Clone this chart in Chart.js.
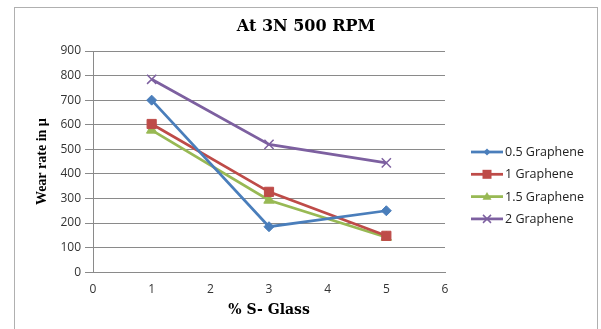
<!DOCTYPE html>
<html>
<head>
<meta charset="utf-8">
<script src="https://cdn.jsdelivr.net/npm/chart.js@4"></script>
<style>
  html, body { margin: 0; padding: 0; background: #fff; }
  #wrap { width: 601px; height: 329px; position: relative; }
</style>
</head>
<body>
<div id="wrap"><canvas id="wearChart"></canvas></div>
<script>
// data
var chartTitle = "At 3N 500 RPM";
var xValues = [1, 3, 5];
var graphene05 = [700, 185, 250];
var graphene1 = [603, 327, 148];
var graphene15 = [578, 293, 142];
var graphene2 = [785, 520, 445];
var seriesNames = ["0.5 Graphene", "1 Graphene", "1.5 Graphene", "2 Graphene"];
var seriesColors = ["#4a7ebb", "#be4b48", "#98b954", "#7d60a0"];

var toPoints = function(vals) {
  return vals.map(function(v, i) { return { x: xValues[i], y: v }; });
};

var makeSet = function(i, vals, style, radius) {
  return {
    label: seriesNames[i],
    data: toPoints(vals),
    borderColor: seriesColors[i],
    backgroundColor: seriesColors[i],
    borderWidth: 2.75,
    pointStyle: style,
    pointRadius: radius,
    pointHoverRadius: radius,
    pointBorderWidth: style === "crossRot" ? 1.5 : 1,
    pointBorderColor: seriesColors[i],
    pointBackgroundColor: seriesColors[i],
    tension: 0
  };
};

// little marker drawer for the legend
function drawMarker(ctx, style, x, y, r, color) {
  ctx.save();
  ctx.fillStyle = color;
  ctx.strokeStyle = color;
  ctx.lineWidth = 1.5;
  ctx.beginPath();
  if (style === "rectRot") {
    ctx.moveTo(x, y - r); ctx.lineTo(x + r, y); ctx.lineTo(x, y + r); ctx.lineTo(x - r, y);
    ctx.closePath(); ctx.fill();
  } else if (style === "rect") {
    ctx.rect(x - r, y - r, 2 * r, 2 * r); ctx.fill();
  } else if (style === "triangle") {
    ctx.moveTo(x, y - r); ctx.lineTo(x + r, y + r * 0.7); ctx.lineTo(x - r, y + r * 0.7);
    ctx.closePath(); ctx.fill();
  } else {
    ctx.moveTo(x - r, y - r); ctx.lineTo(x + r, y + r);
    ctx.moveTo(x + r, y - r); ctx.lineTo(x - r, y + r);
    ctx.stroke();
  }
  ctx.restore();
}

var framePlugin = {
  id: "frame",
  beforeDraw: function(chart) {
    var ctx = chart.ctx;
    ctx.save();
    ctx.fillStyle = "#fff";
    ctx.fillRect(0, 0, chart.width, chart.height);
    ctx.strokeStyle = "#b0b0b0";
    ctx.lineWidth = 1;
    ctx.strokeRect(14.5, 7.5, 583, 340);
    ctx.restore();
  },
  afterDraw: function(chart) {
    var ctx = chart.ctx;
    ctx.save();
    ctx.fillStyle = "#000";
    ctx.font = "bold 16px 'DejaVu Serif'";
    ctx.textAlign = "center";
    ctx.textBaseline = "middle";
    ctx.fillText(chartTitle, 306, 27);

    // legend
    var legendStyles = ["rectRot", "rect", "triangle", "crossRot"];
    var legendSizes = [3.5, 4.5, 4.5, 4];
    ctx.font = "12.5px 'Open Sans'";
    ctx.textAlign = "left";
    chart.data.datasets.forEach(function(ds, i) {
      var y = 152 + i * 22.3;
      ctx.strokeStyle = ds.borderColor;
      ctx.lineWidth = 2.75;
      ctx.beginPath();
      ctx.moveTo(471, y);
      ctx.lineTo(503, y);
      ctx.stroke();
      drawMarker(ctx, legendStyles[i], 487, y, legendSizes[i], ds.borderColor);
      ctx.fillStyle = "#222";
      ctx.fillText(ds.label, 505, y + 0.5);
    });
    ctx.restore();
  }
};

var config = {
  type: "line",
  data: {
    datasets: [
      makeSet(0, graphene05, "rectRot", 5),
      makeSet(1, graphene1, "rect", 6.5),
      makeSet(2, graphene15, "triangle", 6),
      makeSet(3, graphene2, "crossRot", 6.5)
    ]
  },
  options: {
    responsive: true,
    maintainAspectRatio: false,
    animation: false,
    layout: { padding: { left: 30, right: 156, top: 51, bottom: 8 } },
    plugins: {
      legend: { display: false },
      title: { display: false },
      tooltip: { enabled: false }
    },
    scales: {
      x: {
        type: "linear",
        min: 0,
        max: 6,
        ticks: {
          stepSize: 1,
          padding: 3,
          color: "#333",
          font: { family: "'Open Sans'", size: 12, lineHeight: 1 }
        },
        grid: { display: false },
        border: { display: true, color: "#8a8a8a", width: 1 },
        title: {
          display: true,
          text: "% S- Glass",
          color: "#000",
          padding: { top: 4, bottom: 2 },
          font: { family: "'DejaVu Serif'", size: 14, weight: "bold" }
        }
      },
      y: {
        min: 0,
        max: 900,
        ticks: {
          stepSize: 100,
          padding: 4,
          color: "#333",
          font: { family: "'Open Sans'", size: 12 }
        },
        grid: { color: "#8a8a8a", lineWidth: 1, tickLength: 8 },
        border: { display: true, color: "#8a8a8a", width: 1 },
        title: {
          display: true,
          text: "Wear rate in µ",
          color: "#000",
          font: { family: "'Liberation Serif'", size: 14, weight: "bold" }
        },
        afterFit: function(scale) { scale.width = 63; }
      }
    }
  },
  plugins: [framePlugin]
};

var wearChart = new Chart(document.getElementById("wearChart"), config);
</script>
</body>
</html>
